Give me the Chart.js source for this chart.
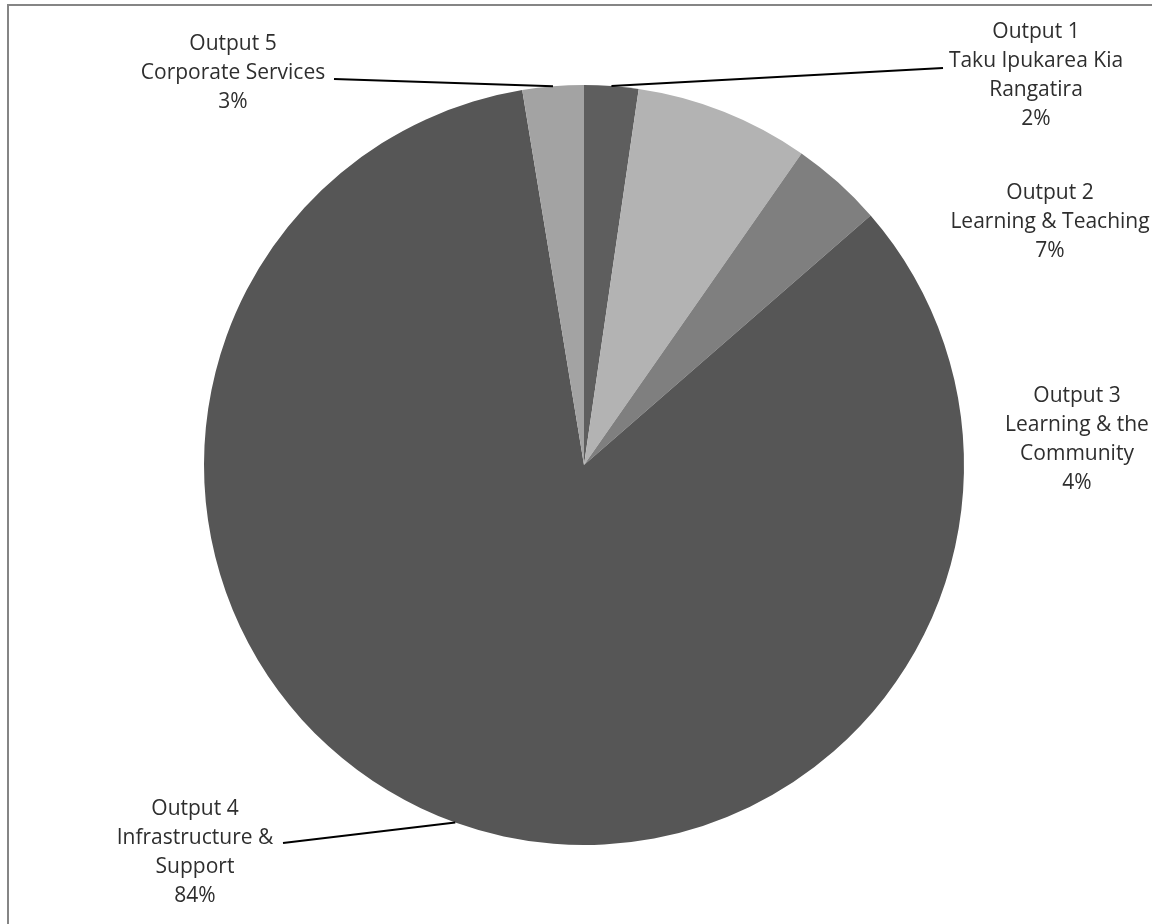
<!DOCTYPE html>
<html>
<head>
<meta charset="utf-8">
<script src="https://cdn.jsdelivr.net/npm/chart.js@4"></script>
<style>
  html, body { margin: 0; padding: 0; background: #ffffff; }
  #wrap { position: relative; width: 1152px; height: 924px; overflow: hidden; background: #fff; }
  #frame { position: absolute; left: 7px; top: 4px; width: 1200px; height: 1000px; border: 2px solid #858585; box-sizing: border-box; }
  canvas { position: absolute; left: 0; top: 0; }
</style>
</head>
<body>
<div id="wrap">
  <div id="frame"></div>
  <canvas id="c" width="1152" height="924"></canvas>
</div>
<script>
// ---- data ----
const categories = [
  ["Output 1", "Taku Ipukarea Kia", "Rangatira"],
  ["Output 2", "Learning & Teaching"],
  ["Output 3", "Learning & the", "Community"],
  ["Output 4", "Infrastructure &", "Support"],
  ["Output 5", "Corporate Services"]
];
const shares = [2.3, 7.4, 3.9, 83.8, 2.6];
const sliceColors = ["#5e5e5e", "#b3b3b3", "#7f7f7f", "#565656", "#a3a3a3"];

// label layout (style only): centre x, first line y, leader line end point (or null)
const labelLayout = [
  { x: 1036, y: 32, leader: [943, 68] },
  { x: 1050, y: 193, leader: null },
  { x: 1077, y: 396, leader: null },
  { x: 195, y: 809, leader: [283, 843] },
  { x: 233, y: 44, leader: [334, 79] }
];

const labelPlugin = {
  id: 'pieLabels',
  afterDatasetsDraw(chart) {
    const ctx = chart.ctx;
    const meta = chart.getDatasetMeta(0);
    const data = chart.data.datasets[0].data;
    const total = data.reduce((a, b) => a + b, 0);
    ctx.save();
    meta.data.forEach((arc, i) => {
      const p = arc.getProps(['x', 'y', 'startAngle', 'endAngle', 'outerRadius'], true);
      const mid = (p.startAngle + p.endAngle) / 2;
      const ex = p.x + Math.cos(mid) * p.outerRadius;
      const ey = p.y + Math.sin(mid) * p.outerRadius;
      const L = labelLayout[i];
      if (L.leader) {
        ctx.strokeStyle = '#000';
        ctx.lineWidth = 2;
        ctx.beginPath();
        ctx.moveTo(ex, ey);
        ctx.lineTo(L.leader[0], L.leader[1]);
        ctx.stroke();
      }
      const lines = categories[i].concat([Math.round(data[i] / total * 100) + '%']);
      ctx.fillStyle = '#2e2e2e';
      ctx.font = '21px "Open Sans", sans-serif';
      ctx.textAlign = 'center';
      ctx.textBaseline = 'middle';
      lines.forEach((t, k) => {
        ctx.fillText(t, L.x, L.y + k * 29);
      });
    });
    ctx.restore();
  }
};

new Chart(document.getElementById('c'), {
  type: 'pie',
  data: {
    labels: categories.map(c => c.join(' ')),
    datasets: [{
      data: shares,
      backgroundColor: sliceColors,
      borderColor: sliceColors,
      borderWidth: 0
    }]
  },
  options: {
    responsive: false,
    animation: false,
    layout: { padding: { left: 204, right: 188, top: 85, bottom: 79 } },
    plugins: {
      legend: { display: false },
      tooltip: { enabled: false },
      title: { display: false }
    }
  },
  plugins: [labelPlugin]
});
</script>
</body>
</html>
